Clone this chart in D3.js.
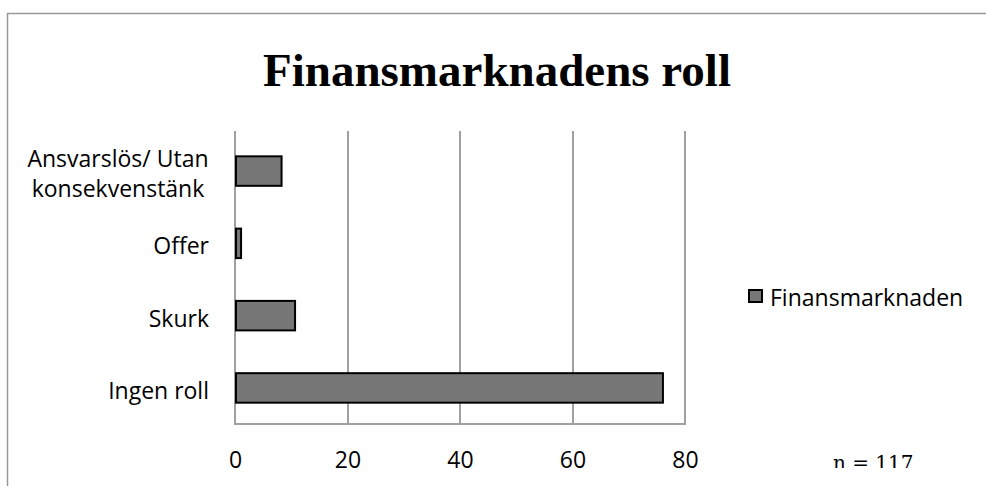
<!DOCTYPE html>
<html>
<head>
<meta charset="utf-8">
<script src="https://cdn.jsdelivr.net/npm/d3@7"></script>
<style>
  body { margin: 0; background: #fff; }
  text { font-family: "Open Sans", "Noto Sans", sans-serif; }
</style>
</head>
<body>
<div id="chart"></div>
<script>
var width = 986;
var height = 486;

// data
var categories = ["Ansvarslös/ Utan konsekvenstänk", "Offer", "Skurk", "Ingen roll"];
var values = [8.1, 0.9, 10.5, 75.9];
var seriesName = "Finansmarknaden";
var tickValues = [0, 20, 40, 60, 80];

var plot = {left: 235, right: 685, top: 131, bottom: 424};

var svg = d3.select("#chart").append("svg")
    .attr("width", width)
    .attr("height", height);

// outer frame, runs off the right and bottom edge
svg.append("rect")
    .attr("x", 7.5)
    .attr("y", 13.5)
    .attr("width", width)
    .attr("height", height)
    .attr("fill", "none")
    .attr("stroke", "#999")
    .attr("stroke-width", 1.5);

svg.append("text")
    .attr("x", 497)
    .attr("y", 86)
    .attr("text-anchor", "middle")
    .style("font-family", "'Liberation Serif', 'Times New Roman', serif")
    .style("font-weight", "bold")
    .style("font-size", "47px")
    .text("Finansmarknadens roll");

var x = d3.scaleLinear()
    .domain([0, 80])
    .range([plot.left, plot.right]);

var y = d3.scaleBand()
    .domain(categories)
    .range([135, plot.bottom])
    .paddingInner(0.592)
    .paddingOuter(0.295);

// gridlines
svg.selectAll("line.grid")
    .data(tickValues)
    .enter()
    .append("line")
        .attr("class", "grid")
        .attr("x1", function(d){ return Math.round(x(d)); })
        .attr("x2", function(d){ return Math.round(x(d)); })
        .attr("y1", plot.top)
        .attr("y2", plot.bottom)
        .attr("stroke", "#a0a0a0")
        .attr("stroke-width", 2);

// bottom axis line
svg.append("line")
    .attr("x1", plot.left - 1)
    .attr("x2", plot.right + 1)
    .attr("y1", plot.bottom)
    .attr("y2", plot.bottom)
    .attr("stroke", "#a0a0a0")
    .attr("stroke-width", 2);

var xAxis = svg.append("g")
    .attr("transform", "translate(0," + plot.bottom + ")")
    .call(d3.axisBottom(x).tickValues(tickValues).tickSize(0).tickPadding(0));
xAxis.select(".domain").remove();
xAxis.selectAll("text")
    .attr("dy", null)
    .attr("y", 44)
    .style("font-family", "'Open Sans', sans-serif")
    .style("font-size", "23px")
    .attr("fill", "#000");

// bars
svg.selectAll("rect.bar")
    .data(values)
    .enter()
    .append("rect")
        .attr("class", "bar")
        .attr("x", x(0) + 1)
        .attr("y", function(d, i){ return y(categories[i]); })
        .attr("width", function(d){ return x(d) - x(0); })
        .attr("height", y.bandwidth())
        .attr("fill", "#777")
        .attr("stroke", "#000")
        .attr("stroke-width", 2);

// category labels, the long one wrapped and centred like the original
var labelLines = {
    "Ansvarslös/ Utan konsekvenstänk": ["Ansvarslös/ Utan", "konsekvenstänk"]
};
categories.forEach(function(c){
    var lines = labelLines[c] || [c];
    var cy = y(c) + y.bandwidth() / 2 + 11;
    var lh = 30.7;
    var multi = lines.length > 1;
    var t = svg.append("text")
        .attr("text-anchor", multi ? "middle" : "end")
        .style("font-size", "23px")
        .attr("fill", "#000");
    lines.forEach(function(l, k){
        t.append("tspan")
            .attr("x", multi ? 118 : 209)
            .attr("y", cy + (k - (lines.length - 1) / 2) * lh)
            .text(l);
    });
});

// legend
svg.append("rect")
    .attr("x", 749)
    .attr("y", 290)
    .attr("width", 13)
    .attr("height", 12)
    .attr("fill", "#777")
    .attr("stroke", "#000")
    .attr("stroke-width", 2);
svg.append("text")
    .attr("x", 770)
    .attr("y", 305.5)
    .style("font-size", "23px")
    .text(seriesName);

// sample size note, clipped at the bottom like its text box in the original
svg.append("clipPath")
    .attr("id", "noteclip")
    .append("rect")
        .attr("x", 800)
        .attr("y", 430)
        .attr("width", 180)
        .attr("height", 38);
svg.append("text")
    .attr("x", 833)
    .attr("y", 469.5)
    .attr("clip-path", "url(#noteclip)")
    .style("font-family", "'DejaVu Serif', 'Liberation Serif', serif")
    .style("font-size", "20px")
    .text("n = 117");
</script>
</body>
</html>
